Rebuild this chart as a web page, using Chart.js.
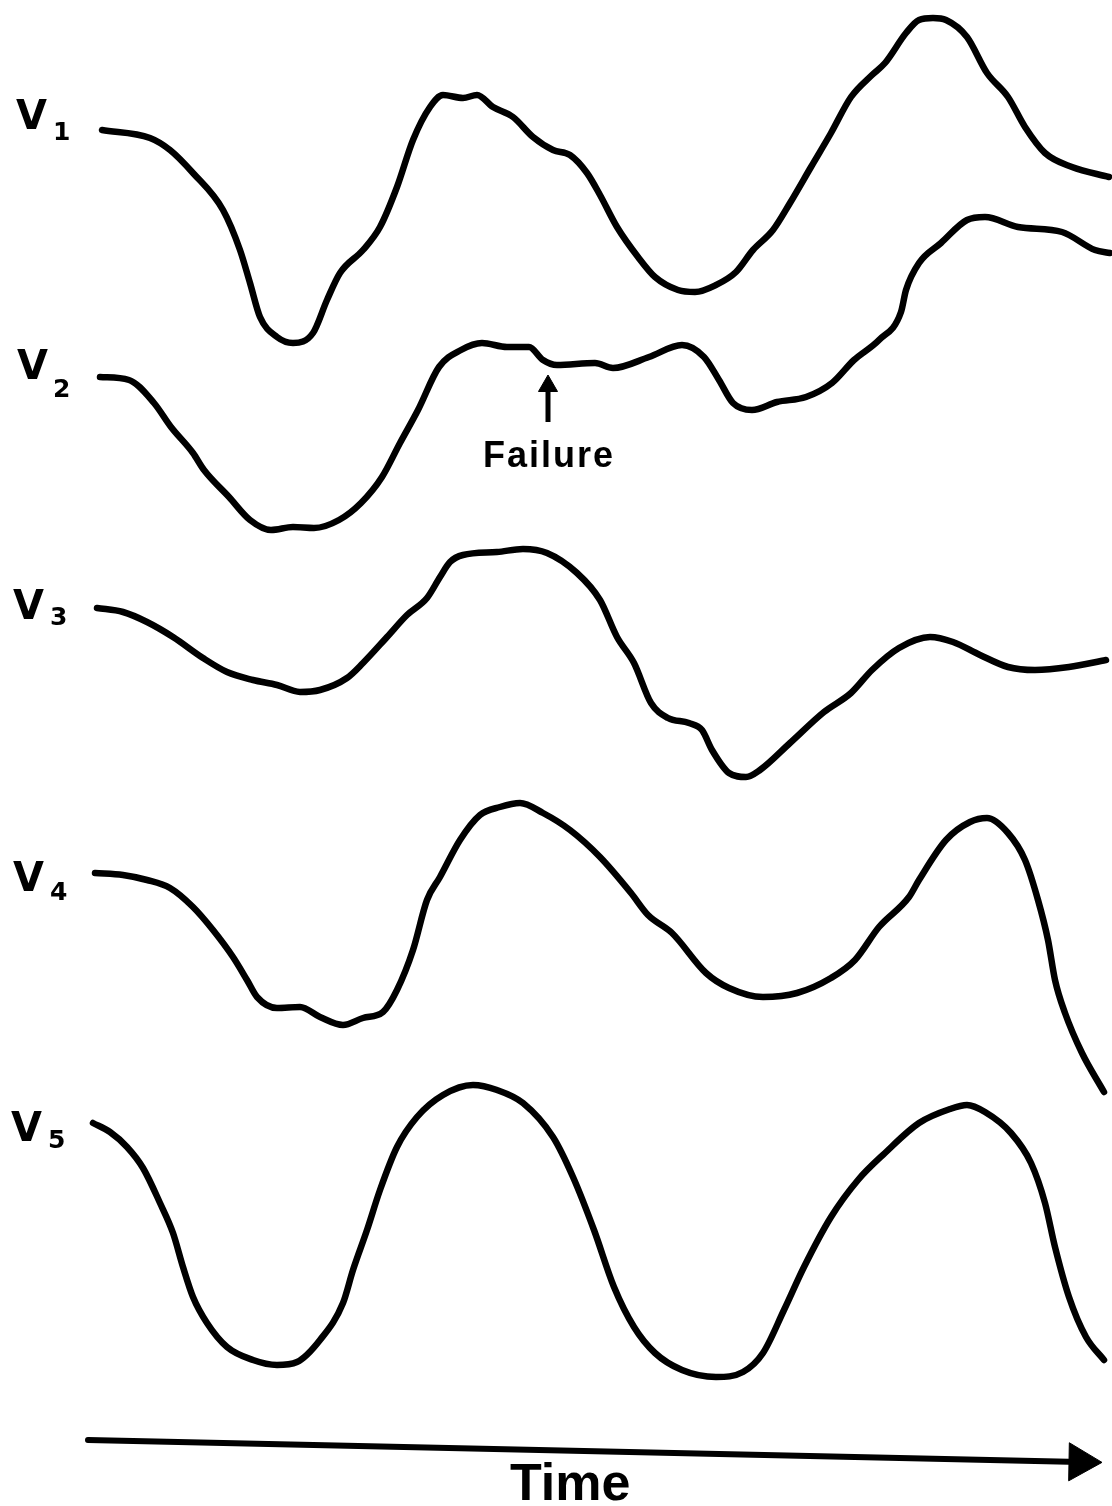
<!DOCTYPE html>
<html>
<head>
<meta charset="utf-8">
<script src="https://cdn.jsdelivr.net/npm/chart.js@4.4.1/dist/chart.umd.min.js"></script>
<style>
  html, body { margin: 0; padding: 0; background: #fff; overflow: hidden; }
  #wrap { position: relative; width: 1112px; height: 1506px; }
  #c { position: absolute; left: 0; top: 0; }
  .v { position: absolute; font-family: "DejaVu Sans", sans-serif; font-weight: bold; font-size: 40px; line-height: 1; color: #000; }
  .d { position: absolute; font-family: "DejaVu Sans", sans-serif; font-weight: bold; font-size: 25px; line-height: 1; color: #000; }
  .note { position: absolute; font-family: "Liberation Sans", Arial, sans-serif; font-weight: bold; line-height: 1; color: #000; white-space: nowrap; }
</style>
</head>
<body>
<div id="wrap">
  <canvas id="c" width="1112" height="1506"></canvas>
  <div class="v" style="left:16px;top:95px">V</div><div class="d" style="left:53px;top:119px">1</div>
  <div class="v" style="left:17px;top:345px">V</div><div class="d" style="left:53px;top:376px">2</div>
  <div class="v" style="left:13px;top:585px">V</div><div class="d" style="left:50px;top:604px">3</div>
  <div class="v" style="left:13px;top:857px">V</div><div class="d" style="left:50px;top:879px">4</div>
  <div class="v" style="left:11px;top:1107px">V</div><div class="d" style="left:48px;top:1127px">5</div>
  <div class="note" style="left:483px;top:437px;font-size:36px;letter-spacing:2px">Failure</div>
  <div class="note" style="left:510px;top:1456px;font-size:52px">Time</div>
</div>
<script>
// Time axis (arbitrary units) and signal level readings per channel
const v1Time  = [102,150,170,193,223,240,250,260,277,293,313,327,340,363,380,397,413,430,443,463,477,493,513,533,553,570,587,600,617,638,655,678,695,716,736,753,773,790,811,831,851,872,885,906,919,933,946,967,987,1008,1025,1045,1072,1109];
const v1Level = [130,138,150,173,210,250,283,317,337,343,333,300,273,250,227,187,140,107,95,98,95,107,117,137,150,155,173,195,227,257,277,290,292,285,272,250,230,203,167,133,97,75,63,33,20,18,20,37,73,97,127,153,167,177];

const v2Time  = [100,129,154,171,193,204,229,250,271,293,314,339,361,382,400,418,439,461,482,507,529,543,557,595,613,649,682,704,719,733,752,777,806,832,854,879,901,906,919,941,967,985,1018,1062,1095,1110];
const v2Level = [377,380,403,427,453,470,497,520,530,527,528,520,503,477,443,410,367,350,343,347,347,360,365,363,368,357,345,357,380,403,410,402,397,383,360,340,312,290,263,243,220,217,227,232,250,253];

const v3Time  = [97,123,147,173,203,227,253,277,300,320,347,363,387,407,427,440,450,463,497,523,547,577,600,617,634,651,668,689,702,712,729,746,760,790,824,851,872,899,930,953,980,1008,1035,1069,1106];
const v3Level = [608,612,622,637,658,672,680,685,692,690,678,663,637,615,598,577,562,555,552,549,553,573,600,637,663,703,718,723,730,750,773,777,770,743,712,693,670,648,637,642,655,667,670,667,660];

const v4Time  = [95,123,147,170,193,213,233,247,257,277,300,320,343,363,383,397,413,427,440,460,480,500,520,543,570,600,631,648,672,706,729,763,797,831,855,879,909,919,946,970,987,1008,1025,1038,1048,1055,1065,1082,1104];
const v4Level = [873,875,880,888,907,930,957,980,997,1008,1007,1017,1025,1018,1012,990,950,900,877,840,815,807,803,813,830,857,893,915,933,973,988,997,993,978,960,927,897,880,840,822,818,833,860,900,940,980,1013,1053,1092];

const v5Time  = [93,110,127,143,160,173,183,193,207,227,253,277,297,320,343,353,367,380,397,417,443,473,497,523,553,573,594,614,634,655,682,716,743,763,784,804,831,858,885,919,950,967,985,1011,1031,1045,1055,1069,1086,1104];
const v5Level = [1123,1132,1147,1168,1203,1233,1267,1297,1323,1347,1360,1365,1362,1340,1303,1270,1230,1190,1147,1117,1095,1085,1090,1103,1137,1177,1230,1287,1327,1353,1370,1377,1372,1353,1310,1267,1217,1180,1153,1123,1109,1105,1112,1133,1163,1203,1247,1297,1337,1360];

// Annotation arrows (time direction, failure marker)
const timeArrowTime  = [88, 1080];
const timeArrowLevel = [1440, 1462];
const failArrowTime  = [548, 548];
const failArrowLevel = [422, 386];

const channelNames = ['V1','V2','V3','V4','V5'];
const channelTimes  = [v1Time, v2Time, v3Time, v4Time, v5Time];
const channelLevels = [v1Level, v2Level, v3Level, v4Level, v5Level];

function pts(t, l) { return t.map((x, i) => ({ x: x, y: l[i] })); }

const datasets = channelNames.map((name, i) => ({
  label: name,
  data: pts(channelTimes[i], channelLevels[i]),
  showLine: true,
  borderColor: '#000',
  borderWidth: 6.5,
  borderCapStyle: 'round',
  borderJoinStyle: 'round',
  cubicInterpolationMode: 'monotone',
  pointRadius: 0,
  fill: false
}));

datasets.push({
  label: 'time',
  data: pts(timeArrowTime, timeArrowLevel),
  showLine: true,
  borderColor: '#000',
  borderWidth: 6,
  borderCapStyle: 'round',
  pointRadius: [0, 22],
  pointStyle: 'triangle',
  pointRotation: 91,
  pointBackgroundColor: '#000',
  pointBorderColor: '#000',
  pointBorderWidth: 1
});
datasets.push({
  label: 'failure',
  data: pts(failArrowTime, failArrowLevel),
  showLine: true,
  borderColor: '#000',
  borderWidth: 5,
  pointRadius: [0, 11],
  pointStyle: 'triangle',
  pointRotation: 0,
  pointBackgroundColor: '#000',
  pointBorderColor: '#000',
  pointBorderWidth: 1
});

new Chart(document.getElementById('c'), {
  type: 'scatter',
  data: { datasets },
  options: {
    responsive: false,
    devicePixelRatio: 1,
    animation: false,
    layout: { padding: 0, autoPadding: false },
    plugins: { legend: { display: false }, tooltip: { enabled: false }, title: { display: false } },
    scales: {
      x: { type: 'linear', display: false, min: 0, max: 1112 },
      y: { type: 'linear', display: false, min: 0, max: 1506, reverse: true }
    }
  }
});
</script>
</body>
</html>
